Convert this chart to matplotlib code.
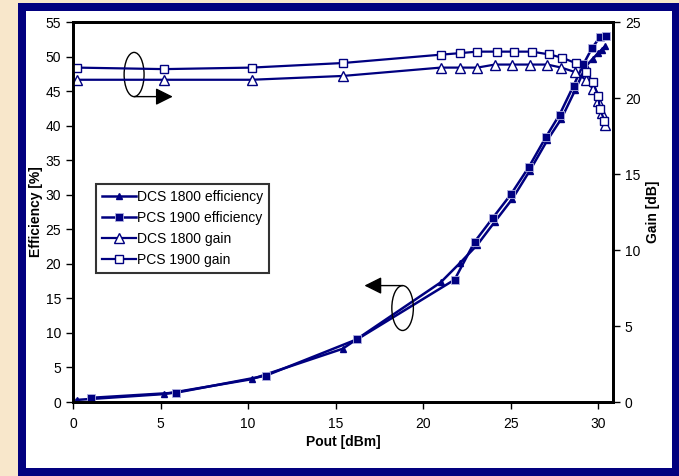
import matplotlib
matplotlib.use("Agg")
import matplotlib.pyplot as plt
from matplotlib.patches import Ellipse, Rectangle

plt.rcParams['font.family'] = ['Liberation Sans', 'DejaVu Sans']

# ---- data ----
x_dcs = [0.2, 5.2, 10.2, 15.4, 21.0, 22.1, 23.1, 24.1, 25.1, 26.1, 27.1, 27.9, 28.7, 29.3, 29.7, 30.0, 30.2, 30.4]
eff_dcs = [0.3, 1.15, 3.3, 7.7, 17.3, 20.1, 22.75, 26.1, 29.4, 33.5, 37.9, 41.0, 45.2, 48.6, 49.7, 50.5, 51.0, 51.5]
gain_dcs = [21.2, 21.2, 21.2, 21.45, 22.0, 22.0, 22.0, 22.2, 22.2, 22.2, 22.2, 22.0, 21.7, 21.2, 20.6, 19.8, 19.0, 18.2]

x_pcs_eff = [1.0, 5.9, 11.0, 16.25, 21.8, 22.95, 24.0, 25.03, 26.04, 27.03, 27.8, 28.6, 29.16, 29.67, 30.1, 30.46]
eff_pcs = [0.6, 1.35, 3.8, 9.1, 17.7, 23.2, 26.7, 30.1, 34.0, 38.4, 41.6, 45.8, 48.9, 51.3, 52.8, 53.0]

x_pcs_gain = [0.2, 5.2, 10.2, 15.4, 21.0, 22.1, 23.1, 24.2, 25.2, 26.2, 27.2, 27.95, 28.75, 29.3, 29.7, 30.0, 30.1, 30.36]
gain_pcs = [22.0, 21.9, 22.0, 22.3, 22.85, 22.95, 23.05, 23.05, 23.05, 23.05, 22.87, 22.65, 22.28, 21.73, 21.05, 20.15, 19.3, 18.5]

labels = ['DCS 1800 efficiency', 'PCS 1900 efficiency', 'DCS 1800 gain', 'PCS 1900 gain']
xticks = [0, 5, 10, 15, 20, 25, 30]
yticks_left = [0, 5, 10, 15, 20, 25, 30, 35, 40, 45, 50, 55]
yticks_right = [0, 5, 10, 15, 20, 25]

NAVY = '#000080'
W, H = 679, 476
fig = plt.figure(figsize=(W / 100, H / 100), dpi=100)
fig.patch.set_facecolor('#F8E7CB')

# frame
fig.patches.append(Rectangle((18 / W, 0), 1 - 18 / W, (H - 3) / H, transform=fig.transFigure,
                             facecolor='#02007F', edgecolor='none', zorder=-20))
fig.patches.append(Rectangle((26 / W, 8 / H), (672 - 26) / W, (468 - 11) / H, transform=fig.transFigure,
                             facecolor='white', edgecolor='none', zorder=-10))

ax = fig.add_axes([73 / W, (H - 402) / H, 540 / W, 380 / H])
ax.set_facecolor('none')
ax2 = ax.twinx()

l1, = ax.plot(x_dcs, eff_dcs, color=NAVY, lw=1.8, marker='^', ms=5, mfc=NAVY, mec=NAVY)
l2, = ax.plot(x_pcs_eff, eff_pcs, color=NAVY, lw=1.8, marker='s', ms=5.5, mfc=NAVY, mec='#b0b0e0', mew=0.6)
l3, = ax2.plot(x_dcs, gain_dcs, color=NAVY, lw=1.6, marker='^', ms=7, mfc='white', mec=NAVY, mew=1.0)
l4, = ax2.plot(x_pcs_gain, gain_pcs, color=NAVY, lw=1.6, marker='s', ms=6.3, mfc='white', mec=NAVY, mew=1.0)

ax.set_xlim(0, 30.85)
ax.set_ylim(0, 55)
ax2.set_ylim(0, 25)
ax.set_xticks(xticks)
ax.set_yticks(yticks_left)
ax2.set_yticks(yticks_right)

for a in (ax, ax2):
    for s in a.spines.values():
        s.set_linewidth(2)
        s.set_color('black')
    a.tick_params(direction='out', length=5, width=1, labelsize=10, colors='black')
ax.tick_params(axis='x', pad=6)

ax.set_xlabel('Pout [dBm]', fontsize=10, fontweight='bold', labelpad=3)
ax.set_ylabel('Efficiency [%]', fontsize=10, fontweight='bold', labelpad=1.5)
ax2.set_ylabel('Gain [dB]', fontsize=10, fontweight='bold', labelpad=4)

leg = ax2.legend([l1, l2, l3, l4], labels, loc='upper left', bbox_to_anchor=(0.0426, 0.574),
                 borderaxespad=0, fontsize=10, frameon=True, fancybox=False, numpoints=1,
                 handlelength=2.4, handletextpad=0.1, labelspacing=0.5, borderpad=0.45)
leg.get_frame().set_edgecolor('black')
leg.get_frame().set_linewidth(1.5)

# annotations: ellipses with arrows
ax.add_patch(Ellipse((3.49, 47.4), 1.14, 6.4, fill=False, edgecolor='black', lw=1, zorder=5))
ax.annotate('', xy=(5.7, 44.2), xytext=(3.49, 44.2),
            arrowprops=dict(arrowstyle='-|>,head_length=0.7,head_width=0.35', color='black', lw=1,
                            mutation_scale=15, shrinkA=0, shrinkB=0), zorder=5)
ax.add_patch(Ellipse((18.83, 13.6), 1.23, 6.5, fill=False, edgecolor='black', lw=1, zorder=5))
ax.annotate('', xy=(16.65, 16.85), xytext=(18.83, 16.85),
            arrowprops=dict(arrowstyle='-|>,head_length=0.7,head_width=0.35', color='black', lw=1,
                            mutation_scale=15, shrinkA=0, shrinkB=0), zorder=5)

fig.savefig('out.png', dpi=100, facecolor=fig.get_facecolor())
